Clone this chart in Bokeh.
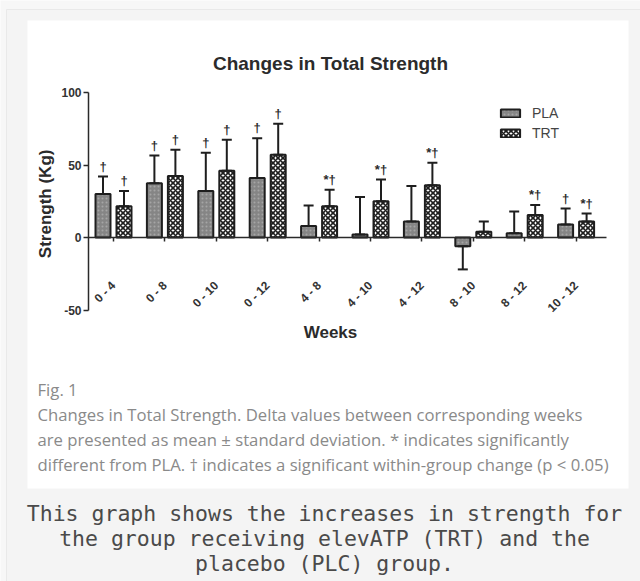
import math
from bokeh.plotting import figure
from bokeh.models import (ColumnDataSource, Range1d, LinearAxis, FixedTicker, Whisker,
                          TeeHead, Label, Legend, LegendItem)
from bokeh.core.properties import value
from bokeh.embed import file_html
from bokeh.resources import INLINE

# ---------------- data ----------------
groups = ["0 - 4", "0 - 8", "0 - 10", "0 - 12", "4 - 8", "4 - 10", "4 - 12", "8 - 10", "8 - 12", "10 - 12"]
pla_mean = [30, 37.5, 32, 41, 8, 2, 11, -6, 3, 9]
pla_sd = [12, 19, 26.5, 27.5, 14, 26, 24.5, 16, 15, 11]
trt_mean = [21.5, 42.5, 46, 57, 21.5, 25, 36, 4, 15.5, 11]
trt_sd = [10.5, 18, 21.5, 21.5, 11.5, 15, 15.5, 7, 7, 5.5]
pla_marks = ["†", "†", "†", "†", "", "", "", "", "", "†"]
trt_marks = ["†", "†", "†", "†", "*†", "*†", "*†", "", "*†", "*†"]
y_ticks = [-50, 0, 50, 100]
y_tick_labels = ["-50", "0", "50", "100"]
series_names = ["PLA", "TRT"]
title_text = "Changes in Total Strength"
y_title = "Strength  (Kg)"
x_title = "Weeks"
fig_caption = ["Fig. 1",
               "Changes in Total Strength. Delta values between corresponding weeks",
               "are presented as mean ± standard deviation. * indicates significantly",
               "different from PLA. † indicates a significant within-group change (p < 0.05)"]
page_text = ["This graph shows the increases in strength for",
             "the group receiving elevATP (TRT) and the",
             "placebo (PLC) group."]

# ---------------- layout helpers (pixel -> data) ----------------
W, H = 640, 581
GX0, GDX = 113.0, 51.4   # pixel of first group centre, pixels per group
GY0, GKY = 237.0, 1.45   # pixel of zero line, pixels per kg


def dx(px):
    return (px - GX0) / GDX


def dy(py):
    return (GY0 - py) / GKY


p = figure(width=W, height=H, output_backend="svg", toolbar_location=None,
           x_range=Range1d(dx(0), dx(W)), y_range=Range1d(dy(H), dy(0)),
           x_axis_location=None, y_axis_location=None, min_border=0)
p.background_fill_color = "#f7f7f7"
p.border_fill_color = "#f7f7f7"
p.outline_line_color = None
p.grid.visible = False

# page card + white figure panel
p.quad(left=dx(6), right=dx(W + 5), top=dy(9), bottom=dy(H + 5),
       fill_color="#f4f4f4", line_color="#e9e9e9", line_width=1)
p.quad(left=dx(27), right=dx(628), top=dy(20), bottom=dy(488),
       fill_color="white", line_color=None)

# ---------------- bars ----------------
off = 10.5 / GDX
bw = 15.0 / GDX
idx = list(range(len(groups)))


def ends(means, sds):
    lo, hi = [], []
    for m, s in zip(means, sds):
        e = m + s if m >= 0 else m - s
        lo.append(min(m, e))
        hi.append(max(m, e))
    return lo, hi


pl, pu = ends(pla_mean, pla_sd)
tl, tu = ends(trt_mean, trt_sd)

src = ColumnDataSource(dict(
    xp=[i - off for i in idx], xt=[i + off for i in idx],
    pm=pla_mean, tm=trt_mean, pl=pl, pu=pu, tl=tl, tu=tu,
    pmark=pla_marks, tmark=trt_marks))

edge = "#1e1e1e"
r_pla = p.vbar(x="xp", top="pm", bottom=0, width=bw, source=src,
               fill_color="#858585", line_color=edge, line_width=2,
               hatch_pattern="dot", hatch_color="#a5a5a5", hatch_scale=4, hatch_weight=1)
r_trt = p.vbar(x="xt", top="tm", bottom=0, width=bw, source=src,
               fill_color="white", line_color=edge, line_width=2,
               hatch_pattern="diagonal_cross", hatch_color=edge, hatch_scale=5, hatch_weight=1.6)

for base, lo, hi in (("xp", "pl", "pu"), ("xt", "tl", "tu")):
    w = Whisker(source=src, base=base, lower=lo, upper=hi, line_color=edge, line_width=2,
                lower_head=TeeHead(size=10, line_width=2, line_color=edge),
                upper_head=TeeHead(size=10, line_width=2, line_color=edge),
                level="annotation")
    p.add_layout(w)

for xs, ys, ts in (("xp", "pu", "pmark"), ("xt", "tu", "tmark")):
    p.text(x=xs, y=ys, text=ts, source=src, text_align="center", text_baseline="bottom",
           y_offset=-3, text_font=value("Liberation Sans"), text_font_style="bold",
           text_font_size="13px", text_color="#2a2a2a")

# ---------------- axes ----------------
axis_col = "#2a2a2a"
yax = LinearAxis(fixed_location=dx(88), bounds=(-50, 100), ticker=FixedTicker(ticks=y_ticks),
                 major_label_overrides=dict(zip(y_ticks, y_tick_labels)))
yax.axis_line_width = 1.5
yax.axis_line_color = axis_col
yax.major_tick_line_color = axis_col
yax.major_tick_line_width = 1.5
yax.major_tick_out = 5
yax.major_tick_in = 0
yax.minor_tick_out = 0
yax.minor_tick_in = 0
yax.major_label_standoff = 2
yax.major_label_text_font = "Liberation Sans"
yax.major_label_text_font_style = "bold"
yax.major_label_text_font_size = "12px"
yax.major_label_text_color = "#333333"
p.add_layout(yax, "left")

xax = LinearAxis(fixed_location=0, bounds=(dx(88), dx(606)), ticker=FixedTicker(ticks=idx),
                 major_label_overrides=dict(zip(idx, groups)))
xax.axis_line_width = 1.5
xax.axis_line_color = axis_col
xax.major_tick_line_color = axis_col
xax.major_tick_line_width = 1.5
xax.major_tick_out = 4
xax.major_tick_in = 0
xax.minor_tick_out = 0
xax.minor_tick_in = 0
xax.major_label_orientation = math.pi / 4
xax.major_label_standoff = 42
xax.major_label_text_font = "Liberation Sans"
xax.major_label_text_font_style = "bold"
xax.major_label_text_font_size = "12px"
xax.major_label_text_color = "#333333"
p.add_layout(xax, "below")

# ---------------- titles ----------------
p.add_layout(Label(x=dx(330), y=dy(63), text=title_text, text_align="center",
                   text_baseline="middle", text_font="Liberation Sans", text_font_style="bold",
                   text_font_size="19px", text_color="#2b2b2b"))
p.add_layout(Label(x=dx(45), y=dy(201), text=y_title, angle=math.pi / 2, text_align="center",
                   text_baseline="middle", text_font="Liberation Sans", text_font_style="bold",
                   text_font_size="17px", text_color="#2b2b2b"))
p.add_layout(Label(x=dx(330), y=dy(332), text=x_title, text_align="center",
                   text_baseline="middle", text_font="Liberation Sans", text_font_style="bold",
                   text_font_size="17px", text_color="#2b2b2b"))

# ---------------- legend ----------------
legend = Legend(items=[LegendItem(label=series_names[0], renderers=[r_pla]),
                       LegendItem(label=series_names[1], renderers=[r_trt])],
                location=(498, H - 143), glyph_width=24, glyph_height=10, label_standoff=10,
                padding=0, margin=0, spacing=0, border_line_color=None,
                background_fill_alpha=0, label_height=20,
                label_text_font="Liberation Sans", label_text_font_size="14px",
                label_text_color="#444444")
p.add_layout(legend)

# ---------------- captions ----------------
for k, line in enumerate(fig_caption):
    p.add_layout(Label(x=dx(37), y=dy(389 + 25 * k), text=line, text_align="left",
                       text_baseline="middle", text_font="Open Sans", text_font_size="16.7px",
                       text_color="#8a8a8a"))
for k, line in enumerate(page_text):
    p.add_layout(Label(x=dx(324), y=dy(513 + 25 * k), text=line, text_align="center",
                       text_baseline="middle", text_font="DejaVu Sans Mono",
                       text_font_size="21.5px", text_color="#4a4a4a"))

open("out.html", "w").write(file_html(p, INLINE))
